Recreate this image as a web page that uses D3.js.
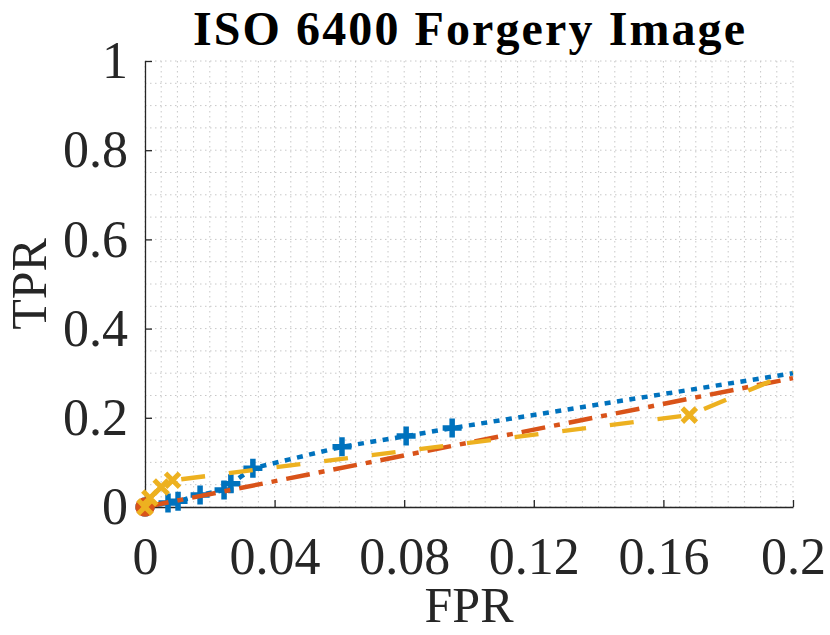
<!DOCTYPE html>
<html>
<head>
<meta charset="utf-8">
<script src="https://cdn.jsdelivr.net/npm/d3@7"></script>
<style>
  body { margin: 0; background: #fff; }
  text { font-family: "Liberation Serif", "Times New Roman", serif; }
</style>
</head>
<body>
<div id="chart"></div>
<script>
// Values ([FPR, TPR] pairs)
const blueSeries = [[0, 0], [0.0071, 0.009], [0.0102, 0.013], [0.017, 0.027], [0.0244, 0.038],
  [0.0265, 0.052], [0.0333, 0.087], [0.0608, 0.135], [0.0806, 0.159], [0.0948, 0.177], [0.2, 0.30]];
const orangeSeries = [[0, 0], [0.2, 0.289]];
const yellowSeries = [[0, 0], [0.0015, 0.02], [0.005, 0.045], [0.0085, 0.06], [0.168, 0.206], [0.2, 0.303]];

const xTicks = [0, 0.04, 0.08, 0.12, 0.16, 0.2];
const xTickLabels = ["0", "0.04", "0.08", "0.12", "0.16", "0.2"];
const yTicks = [0, 0.2, 0.4, 0.6, 0.8, 1];
const yTickLabels = ["0", "0.2", "0.4", "0.6", "0.8", "1"];

const titleText = "ISO 6400 Forgery Image";
const xLabel = "FPR";
const yLabel = "TPR";

// Set dimensions and margins
const margin = {top: 61, right: 37, bottom: 128, left: 145},
    width = 830 - margin.left - margin.right,
    height = 635 - margin.top - margin.bottom;

const svg = d3.select("#chart")
  .append("svg")
    .attr("width", 830)
    .attr("height", 635);

const g = svg.append("g")
    .attr("transform", `translate(${margin.left}, ${margin.top})`);

const xScale = d3.scaleLinear().domain([0, 0.2]).range([0, width]);
const yScale = d3.scaleLinear().domain([0, 1]).range([height, 0]);

// Minor grid, dotted
const grid = g.append("g");
d3.range(0, 0.2001, 0.005).forEach(function(v) {
  grid.append("line")
    .attr("x1", xScale(v)).attr("x2", xScale(v))
    .attr("y1", 0).attr("y2", height)
    .attr("stroke", "#c8c8c8").attr("stroke-width", 1)
    .attr("stroke-dasharray", "1.5,3.5");
});
d3.range(0, 1.0001, 0.05).forEach(function(v) {
  grid.append("line")
    .attr("x1", 0).attr("x2", width)
    .attr("y1", yScale(v)).attr("y2", yScale(v))
    .attr("stroke", "#c8c8c8").attr("stroke-width", 1)
    .attr("stroke-dasharray", "1.5,3.5");
});

// Axes with inward ticks
const xAxis = g.append("g")
  .attr("transform", `translate(0, ${height})`)
  .call(d3.axisBottom(xScale)
    .tickValues(xTicks)
    .tickFormat((d, i) => xTickLabels[i])
    .tickSizeInner(-7).tickSizeOuter(0).tickPadding(30));

const yAxis = g.append("g")
  .call(d3.axisLeft(yScale)
    .tickValues(yTicks)
    .tickFormat((d, i) => yTickLabels[i])
    .tickSizeInner(-7).tickSizeOuter(0).tickPadding(17));

[xAxis, yAxis].forEach(function(ax) {
  ax.select(".domain").attr("stroke", "#262626").attr("stroke-width", 1.3);
  ax.selectAll(".tick line").attr("stroke", "#262626").attr("stroke-width", 1.3);
  ax.selectAll(".tick text")
    .attr("fill", "#262626")
    .style("font-family", "'Liberation Serif', serif")
    .style("font-size", "52px");
});

const line = d3.line()
  .x(d => xScale(d[0]))
  .y(d => yScale(d[1]));

// The curves run on past the x limit, so no marker sits on the right edge
const inside = d => d[0] < xScale.domain()[1];

// Blue dotted line with plus markers
g.append("path")
  .datum(blueSeries)
  .attr("d", line)
  .attr("fill", "none")
  .attr("stroke", "#0072BD")
  .attr("stroke-width", 4.5)
  .attr("stroke-dasharray", "6,6.5");

g.append("g").selectAll("path")
  .data(blueSeries.filter(inside))
  .enter().append("path")
    .attr("d", d => {
      const x = xScale(d[0]), y = yScale(d[1]), s = 9.5;
      return `M${x - s},${y}L${x + s},${y}M${x},${y - s}L${x},${y + s}`;
    })
    .attr("stroke", "#0072BD")
    .attr("stroke-width", 5.5)
    .attr("fill", "none");

// Orange dash-dot line with circle marker
g.append("path")
  .datum(orangeSeries)
  .attr("d", line)
  .attr("fill", "none")
  .attr("stroke", "#D95319")
  .attr("stroke-width", 4.5)
  .attr("stroke-dasharray", "24,9,6,9");

g.append("g").selectAll("circle")
  .data(orangeSeries.filter(inside))
  .enter().append("circle")
    .attr("cx", d => xScale(d[0]))
    .attr("cy", d => yScale(d[1]))
    .attr("r", 9)
    .attr("fill", "#D95319")
    .attr("stroke", "#D95319")
    .attr("stroke-width", 1.5);

// Yellow dashed line with x markers
g.append("path")
  .datum(yellowSeries)
  .attr("d", line)
  .attr("fill", "none")
  .attr("stroke", "#EDB120")
  .attr("stroke-width", 4.5)
  .attr("stroke-dasharray", "24,24");

g.append("g").selectAll("path")
  .data(yellowSeries.filter(inside))
  .enter().append("path")
    .attr("d", d => {
      const x = xScale(d[0]), y = yScale(d[1]), s = 7;
      return `M${x - s},${y - s}L${x + s},${y + s}M${x - s},${y + s}L${x + s},${y - s}`;
    })
    .attr("stroke", "#EDB120")
    .attr("stroke-width", 5)
    .attr("fill", "none");

// Title and axis labels
svg.append("text")
  .attr("x", margin.left + width / 2)
  .attr("y", 45)
  .attr("text-anchor", "middle")
  .attr("textLength", 552)
  .attr("lengthAdjust", "spacing")
  .style("font-size", "48px")
  .style("font-weight", "bold")
  .attr("fill", "#000")
  .text(titleText);

svg.append("text")
  .attr("x", margin.left + width / 2)
  .attr("y", 622)
  .attr("text-anchor", "middle")
  .style("font-size", "50px")
  .attr("fill", "#262626")
  .text(xLabel);

svg.append("text")
  .attr("transform", `translate(46, ${margin.top + height / 2}) rotate(-90)`)
  .attr("text-anchor", "middle")
  .style("font-size", "50px")
  .attr("fill", "#262626")
  .text(yLabel);
</script>
</body>
</html>
